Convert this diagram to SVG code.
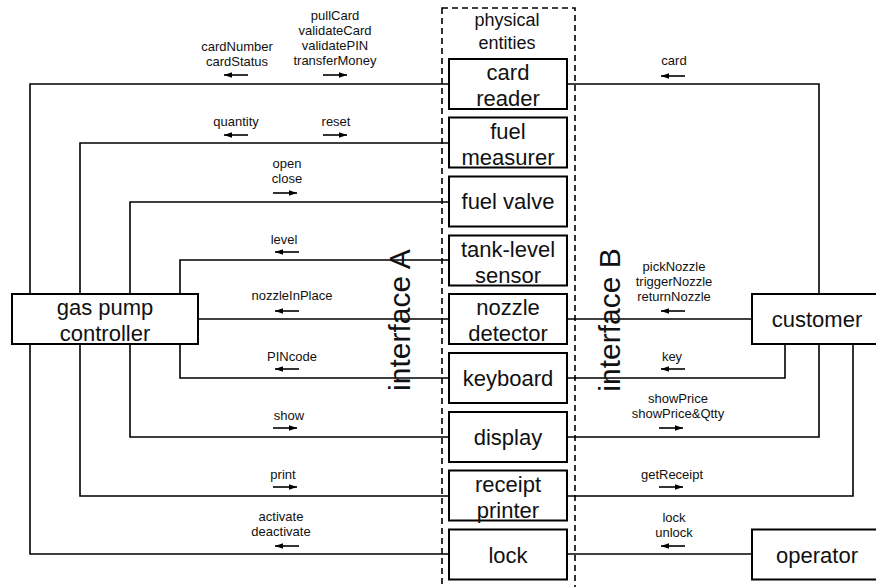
<svg xmlns="http://www.w3.org/2000/svg" width="876" height="587" viewBox="0 0 876 587">
<defs>
<marker id="ah" viewBox="0 0 10 10" refX="10" refY="5" markerWidth="8" markerHeight="8" markerUnits="userSpaceOnUse" orient="auto">
<path d="M0,1.5 L10,5 L0,8.5 Z" fill="#000"/>
</marker>
<style>
.box{fill:#fff;stroke:#000;stroke-width:2}
.ln{fill:none;stroke:#000;stroke-width:1.6}
.ar{fill:none;stroke:#000;stroke-width:1.6;marker-end:url(#ah)}
.big{font-family:"Liberation Sans",Arial,sans-serif;font-size:22px;text-anchor:middle;fill:#111}
.sm{font-family:"Liberation Sans",Arial,sans-serif;font-size:13px;text-anchor:middle;fill:#111}
.mid{font-family:"Liberation Sans",Arial,sans-serif;font-size:18px;text-anchor:middle;fill:#111}
.ifc{font-family:"Liberation Sans",Arial,sans-serif;font-size:30px;text-anchor:middle;fill:#111}
</style>
</defs>
<rect x="0" y="0" width="876" height="587" fill="#fff"/>

<g id="connectors">
<!-- left side -->
<polyline class="ln" points="449,84 30,84 30,294"/>
<polyline class="ln" points="449,143 80,143 80,294"/>
<polyline class="ln" points="449,202 130,202 130,294"/>
<polyline class="ln" points="449,260 180,260 180,294"/>
<polyline class="ln" points="449,319 198,319"/>
<polyline class="ln" points="449,378 180,378 180,344"/>
<polyline class="ln" points="449,437 130,437 130,344"/>
<polyline class="ln" points="449,496 80,496 80,344"/>
<polyline class="ln" points="449,554 30,554 30,344"/>
<!-- right side -->
<polyline class="ln" points="567,84 819,84 819,294"/>
<polyline class="ln" points="567,319 752,319"/>
<polyline class="ln" points="567,378 785,378 785,344"/>
<polyline class="ln" points="567,437 819,437 819,344"/>
<polyline class="ln" points="567,496 853,496 853,344"/>
<polyline class="ln" points="567,554 752,554"/>
<!-- flow arrows left -->
<line class="ar" x1="248" y1="75" x2="224" y2="75"/>
<line class="ar" x1="323" y1="75" x2="347" y2="75"/>
<line class="ar" x1="248" y1="135" x2="224" y2="135"/>
<line class="ar" x1="323" y1="135" x2="347" y2="135"/>
<line class="ar" x1="273" y1="193" x2="297" y2="193"/>
<line class="ar" x1="299" y1="252" x2="275" y2="252"/>
<line class="ar" x1="299" y1="311" x2="275" y2="311"/>
<line class="ar" x1="299" y1="369" x2="275" y2="369"/>
<line class="ar" x1="273" y1="428" x2="297" y2="428"/>
<line class="ar" x1="273" y1="487" x2="297" y2="487"/>
<line class="ar" x1="299" y1="546" x2="275" y2="546"/>
<!-- flow arrows right -->
<line class="ar" x1="685" y1="76" x2="661" y2="76"/>
<line class="ar" x1="685" y1="311" x2="661" y2="311"/>
<line class="ar" x1="685" y1="369" x2="661" y2="369"/>
<line class="ar" x1="659" y1="428" x2="683" y2="428"/>
<line class="ar" x1="659" y1="487" x2="683" y2="487"/>
<line class="ar" x1="685" y1="546" x2="661" y2="546"/>
</g>

<g id="labels">
<text class="sm"><tspan x="237" y="51">cardNumber</tspan><tspan x="237" y="66">cardStatus</tspan></text>
<text class="sm"><tspan x="335" y="20">pullCard</tspan><tspan x="335" y="35">validateCard</tspan><tspan x="335" y="50">validatePIN</tspan><tspan x="335" y="65">transferMoney</tspan></text>
<text class="sm" x="236" y="126">quantity</text>
<text class="sm" x="336" y="126">reset</text>
<text class="sm"><tspan x="287" y="168">open</tspan><tspan x="287" y="183">close</tspan></text>
<text class="sm" x="284" y="244">level</text>
<text class="sm" x="292" y="300">nozzleInPlace</text>
<text class="sm" x="292" y="361">PINcode</text>
<text class="sm" x="289" y="420">show</text>
<text class="sm" x="283" y="479">print</text>
<text class="sm"><tspan x="281" y="521">activate</tspan><tspan x="281" y="536">deactivate</tspan></text>
<text class="sm" x="674" y="65">card</text>
<text class="sm"><tspan x="674" y="271">pickNozzle</tspan><tspan x="674" y="286">triggerNozzle</tspan><tspan x="674" y="301">returnNozzle</tspan></text>
<text class="sm" x="672" y="361">key</text>
<text class="sm"><tspan x="678" y="403">showPrice</tspan><tspan x="678" y="418">showPrice&amp;Qtty</tspan></text>
<text class="sm" x="672" y="479">getReceipt</text>
<text class="sm"><tspan x="674" y="522">lock</tspan><tspan x="674" y="537">unlock</tspan></text>
</g>

<g id="physical-entities">
<rect x="442" y="8" width="133" height="600" fill="none" stroke="#000" stroke-width="1.6" stroke-dasharray="6,4"/>
<text class="mid"><tspan x="507" y="26">physical</tspan><tspan x="507" y="49">entities</tspan></text>
</g>

<g id="interface-a"><text class="ifc" transform="translate(410,320) rotate(-90)">interface A</text></g>
<g id="interface-b"><text class="ifc" transform="translate(620,320) rotate(-90)">interface B</text></g>

<g id="card-reader"><rect class="box" x="449" y="59" width="118" height="50"/><text class="big"><tspan x="508" y="80">card</tspan><tspan x="508" y="106">reader</tspan></text></g>
<g id="fuel-measurer"><rect class="box" x="449" y="117.5" width="118" height="50"/><text class="big"><tspan x="508" y="138.5">fuel</tspan><tspan x="508" y="164.5">measurer</tspan></text></g>
<g id="fuel-valve"><rect class="box" x="449" y="176.5" width="118" height="50"/><text class="big" x="508" y="209">fuel valve</text></g>
<g id="tank-level-sensor"><rect class="box" x="449" y="235.5" width="118" height="50"/><text class="big"><tspan x="508" y="256.5">tank-level</tspan><tspan x="508" y="282.5">sensor</tspan></text></g>
<g id="nozzle-detector"><rect class="box" x="449" y="294" width="118" height="50"/><text class="big"><tspan x="508" y="315">nozzle</tspan><tspan x="508" y="341">detector</tspan></text></g>
<g id="keyboard"><rect class="box" x="449" y="353" width="118" height="50"/><text class="big" x="508" y="386">keyboard</text></g>
<g id="display"><rect class="box" x="449" y="412" width="118" height="50"/><text class="big" x="508" y="445">display</text></g>
<g id="receipt-printer"><rect class="box" x="449" y="470.5" width="118" height="50"/><text class="big"><tspan x="508" y="491.5">receipt</tspan><tspan x="508" y="517.5">printer</tspan></text></g>
<g id="lock"><rect class="box" x="449" y="529.5" width="118" height="50"/><text class="big" x="508" y="562.5">lock</text></g>

<g id="gas-pump-controller"><rect class="box" x="12" y="294" width="186" height="50"/><text class="big"><tspan x="105" y="315">gas pump</tspan><tspan x="105" y="341">controller</tspan></text></g>
<g id="customer"><rect class="box" x="752" y="294" width="130" height="50"/><text class="big" x="817" y="327">customer</text></g>
<g id="operator"><rect class="box" x="752" y="529.5" width="130" height="50"/><text class="big" x="817" y="562.5">operator</text></g>
</svg>
